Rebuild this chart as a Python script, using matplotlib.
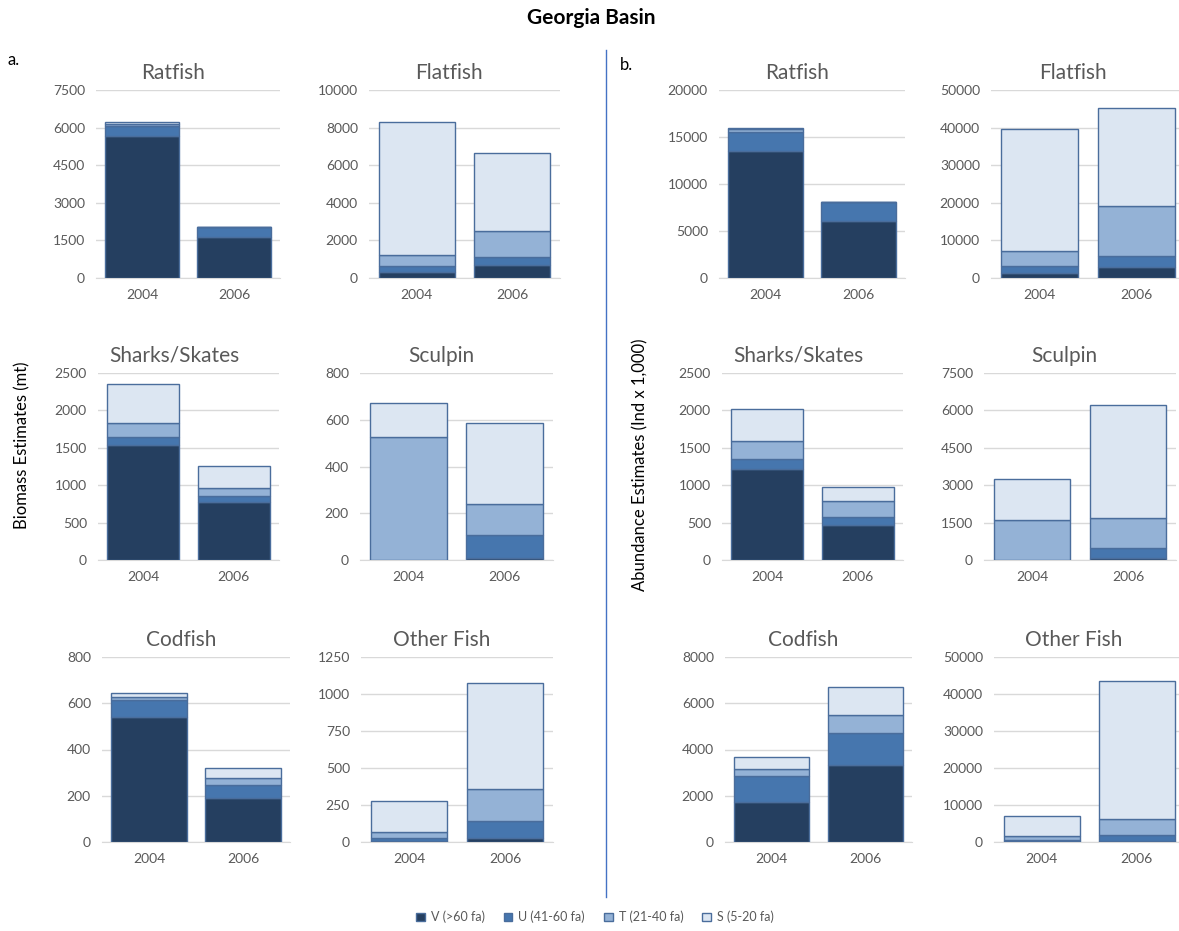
import matplotlib
matplotlib.use("Agg")
import matplotlib.pyplot as plt
from matplotlib.patches import Patch
import numpy as np

plt.rcParams['font.family'] = ['Lato', 'DejaVu Sans']

years = ["2004", "2006"]
classes = ["V (>60 fa)", "U (41-60 fa)", "T (21-40 fa)", "S (5-20 fa)"]
colors = ["#253F60", "#4676AE", "#94B2D6", "#DCE6F2"]
edge = "#4A6D9C"

groups = ["Ratfish", "Flatfish", "Sharks/Skates", "Sculpin", "Codfish", "Other Fish"]

# Biomass (mt): per group, per class -> [2004, 2006]
bio_V = {"Ratfish": [5650, 1650], "Flatfish": [300, 700], "Sharks/Skates": [1540, 780],
         "Sculpin": [0, 10], "Codfish": [540, 190], "Other Fish": [10, 30]}
bio_U = {"Ratfish": [400, 400], "Flatfish": [350, 400], "Sharks/Skates": [110, 70],
         "Sculpin": [0, 95], "Codfish": [75, 55], "Other Fish": [15, 115]}
bio_T = {"Ratfish": [100, 0], "Flatfish": [550, 1400], "Sharks/Skates": [180, 110],
         "Sculpin": [525, 135], "Codfish": [10, 30], "Other Fish": [45, 210]}
bio_S = {"Ratfish": [70, 0], "Flatfish": [7100, 4150], "Sharks/Skates": [520, 300],
         "Sculpin": [145, 345], "Codfish": [18, 45], "Other Fish": [210, 720]}
bio_max = {"Ratfish": 7500, "Flatfish": 10000, "Sharks/Skates": 2500,
           "Sculpin": 800, "Codfish": 800, "Other Fish": 1250}
bio_step = {"Ratfish": 1500, "Flatfish": 2000, "Sharks/Skates": 500,
            "Sculpin": 200, "Codfish": 200, "Other Fish": 250}

# Abundance (Ind x 1,000)
abu_V = {"Ratfish": [13500, 6100], "Flatfish": [1200, 3000], "Sharks/Skates": [1220, 470],
         "Sculpin": [0, 100], "Codfish": [1750, 3350], "Other Fish": [200, 300]}
abu_U = {"Ratfish": [2000, 2000], "Flatfish": [2000, 2800], "Sharks/Skates": [130, 100],
         "Sculpin": [0, 400], "Codfish": [1100, 1350], "Other Fish": [300, 1500]}
abu_T = {"Ratfish": [300, 0], "Flatfish": [4000, 13400], "Sharks/Skates": [240, 220],
         "Sculpin": [1600, 1200], "Codfish": [300, 780], "Other Fish": [1000, 4500]}
abu_S = {"Ratfish": [200, 0], "Flatfish": [32300, 26000], "Sharks/Skates": [430, 190],
         "Sculpin": [1650, 4500], "Codfish": [520, 1220], "Other Fish": [5600, 37200]}
abu_max = {"Ratfish": 20000, "Flatfish": 50000, "Sharks/Skates": 2500,
           "Sculpin": 7500, "Codfish": 8000, "Other Fish": 50000}
abu_step = {"Ratfish": 5000, "Flatfish": 10000, "Sharks/Skates": 500,
            "Sculpin": 1500, "Codfish": 2000, "Other Fish": 10000}

W, H = 1179, 931
fig = plt.figure(figsize=(W / 100, H / 100), dpi=100)

# pixel boxes (left, width) per row for each of 4 columns
left_boxes = [
    [(96, 184), (369, 191)],
    [(98, 181), (360, 193)],
    [(102, 188), (361, 192)],
]
right_boxes = [
    [(719, 186), (991, 194)],
    [(722, 181), (984, 192)],
    [(725, 187), (994, 190)],
]
row_top = [90, 373, 657]
row_h = [188, 187, 185]

def px_axes(x, y_top, w, h):
    return fig.add_axes([x / W, 1 - (y_top + h) / H, w / W, h / H])

def draw(ax, name, V, U, T, S, ymax, step):
    x = np.arange(len(years))
    bottom = np.zeros(len(years))
    for vals, c in zip([V[name], U[name], T[name], S[name]], colors):
        vals = np.array(vals, dtype=float)
        ax.bar(x, vals, width=0.8, bottom=bottom, color=c, edgecolor=edge,
               linewidth=1.0, zorder=3)
        bottom += vals
    ax.set_xlim(-0.5, 1.5)
    ax.set_ylim(0, ymax)
    ax.set_yticks(np.arange(0, ymax + 1, step))
    ax.set_xticks(x)
    ax.set_xticklabels(years)
    ax.grid(axis='y', color='#D9D9D9', linewidth=1.0, zorder=0)
    for s in ['top', 'right', 'left']:
        ax.spines[s].set_visible(False)
    ax.spines['bottom'].set_color('#D9D9D9')
    ax.tick_params(axis='both', length=0, labelsize=10, colors='#595959', pad=8)
    ax.set_axisbelow(True)
    ax.set_title(name, fontsize=15, color='#595959', x=0.42, pad=8)

for i, name in enumerate(groups):
    r, c = divmod(i, 2)
    lx, lw = left_boxes[r][c]
    ax = px_axes(lx, row_top[r], lw, row_h[r])
    draw(ax, name, bio_V, bio_U, bio_T, bio_S, bio_max[name], bio_step[name])
    rx, rw = right_boxes[r][c]
    ax2 = px_axes(rx, row_top[r], rw, row_h[r])
    draw(ax2, name, abu_V, abu_U, abu_T, abu_S, abu_max[name], abu_step[name])

fig.text(591 / W, 1 - 18 / H, "Georgia Basin", ha='center', va='center',
         fontsize=15, fontweight='bold', color='black')
fig.text(7 / W, 1 - 60 / H, "a.", ha='left', va='center', fontsize=12, color='black')
fig.text(620 / W, 1 - 65 / H, "b.", ha='left', va='center', fontsize=12, color='black')
fig.text(22 / W, 1 - 445 / H, "Biomass Estimates (mt)", rotation=90,
         ha='center', va='center', fontsize=12, color='black')
fig.text(640 / W, 1 - 465 / H, "Abundance Estimates (Ind x 1,000)", rotation=90,
         ha='center', va='center', fontsize=12, color='black')

fig.add_artist(plt.Line2D([606 / W, 606 / W], [1 - 50 / H, 1 - 897 / H],
                          color='#4472C4', linewidth=1.0))

handles = [Patch(facecolor=c, edgecolor=edge, label=l) for c, l in zip(colors, classes)]
fig.legend(handles=handles, loc='center', bbox_to_anchor=(595 / W, 1 - 917 / H),
           ncol=4, frameon=False, fontsize=9, handlelength=0.7, handleheight=0.7,
           columnspacing=1.5, handletextpad=0.5, labelcolor='#595959')

fig.savefig("out.png", dpi=100, facecolor='white')
